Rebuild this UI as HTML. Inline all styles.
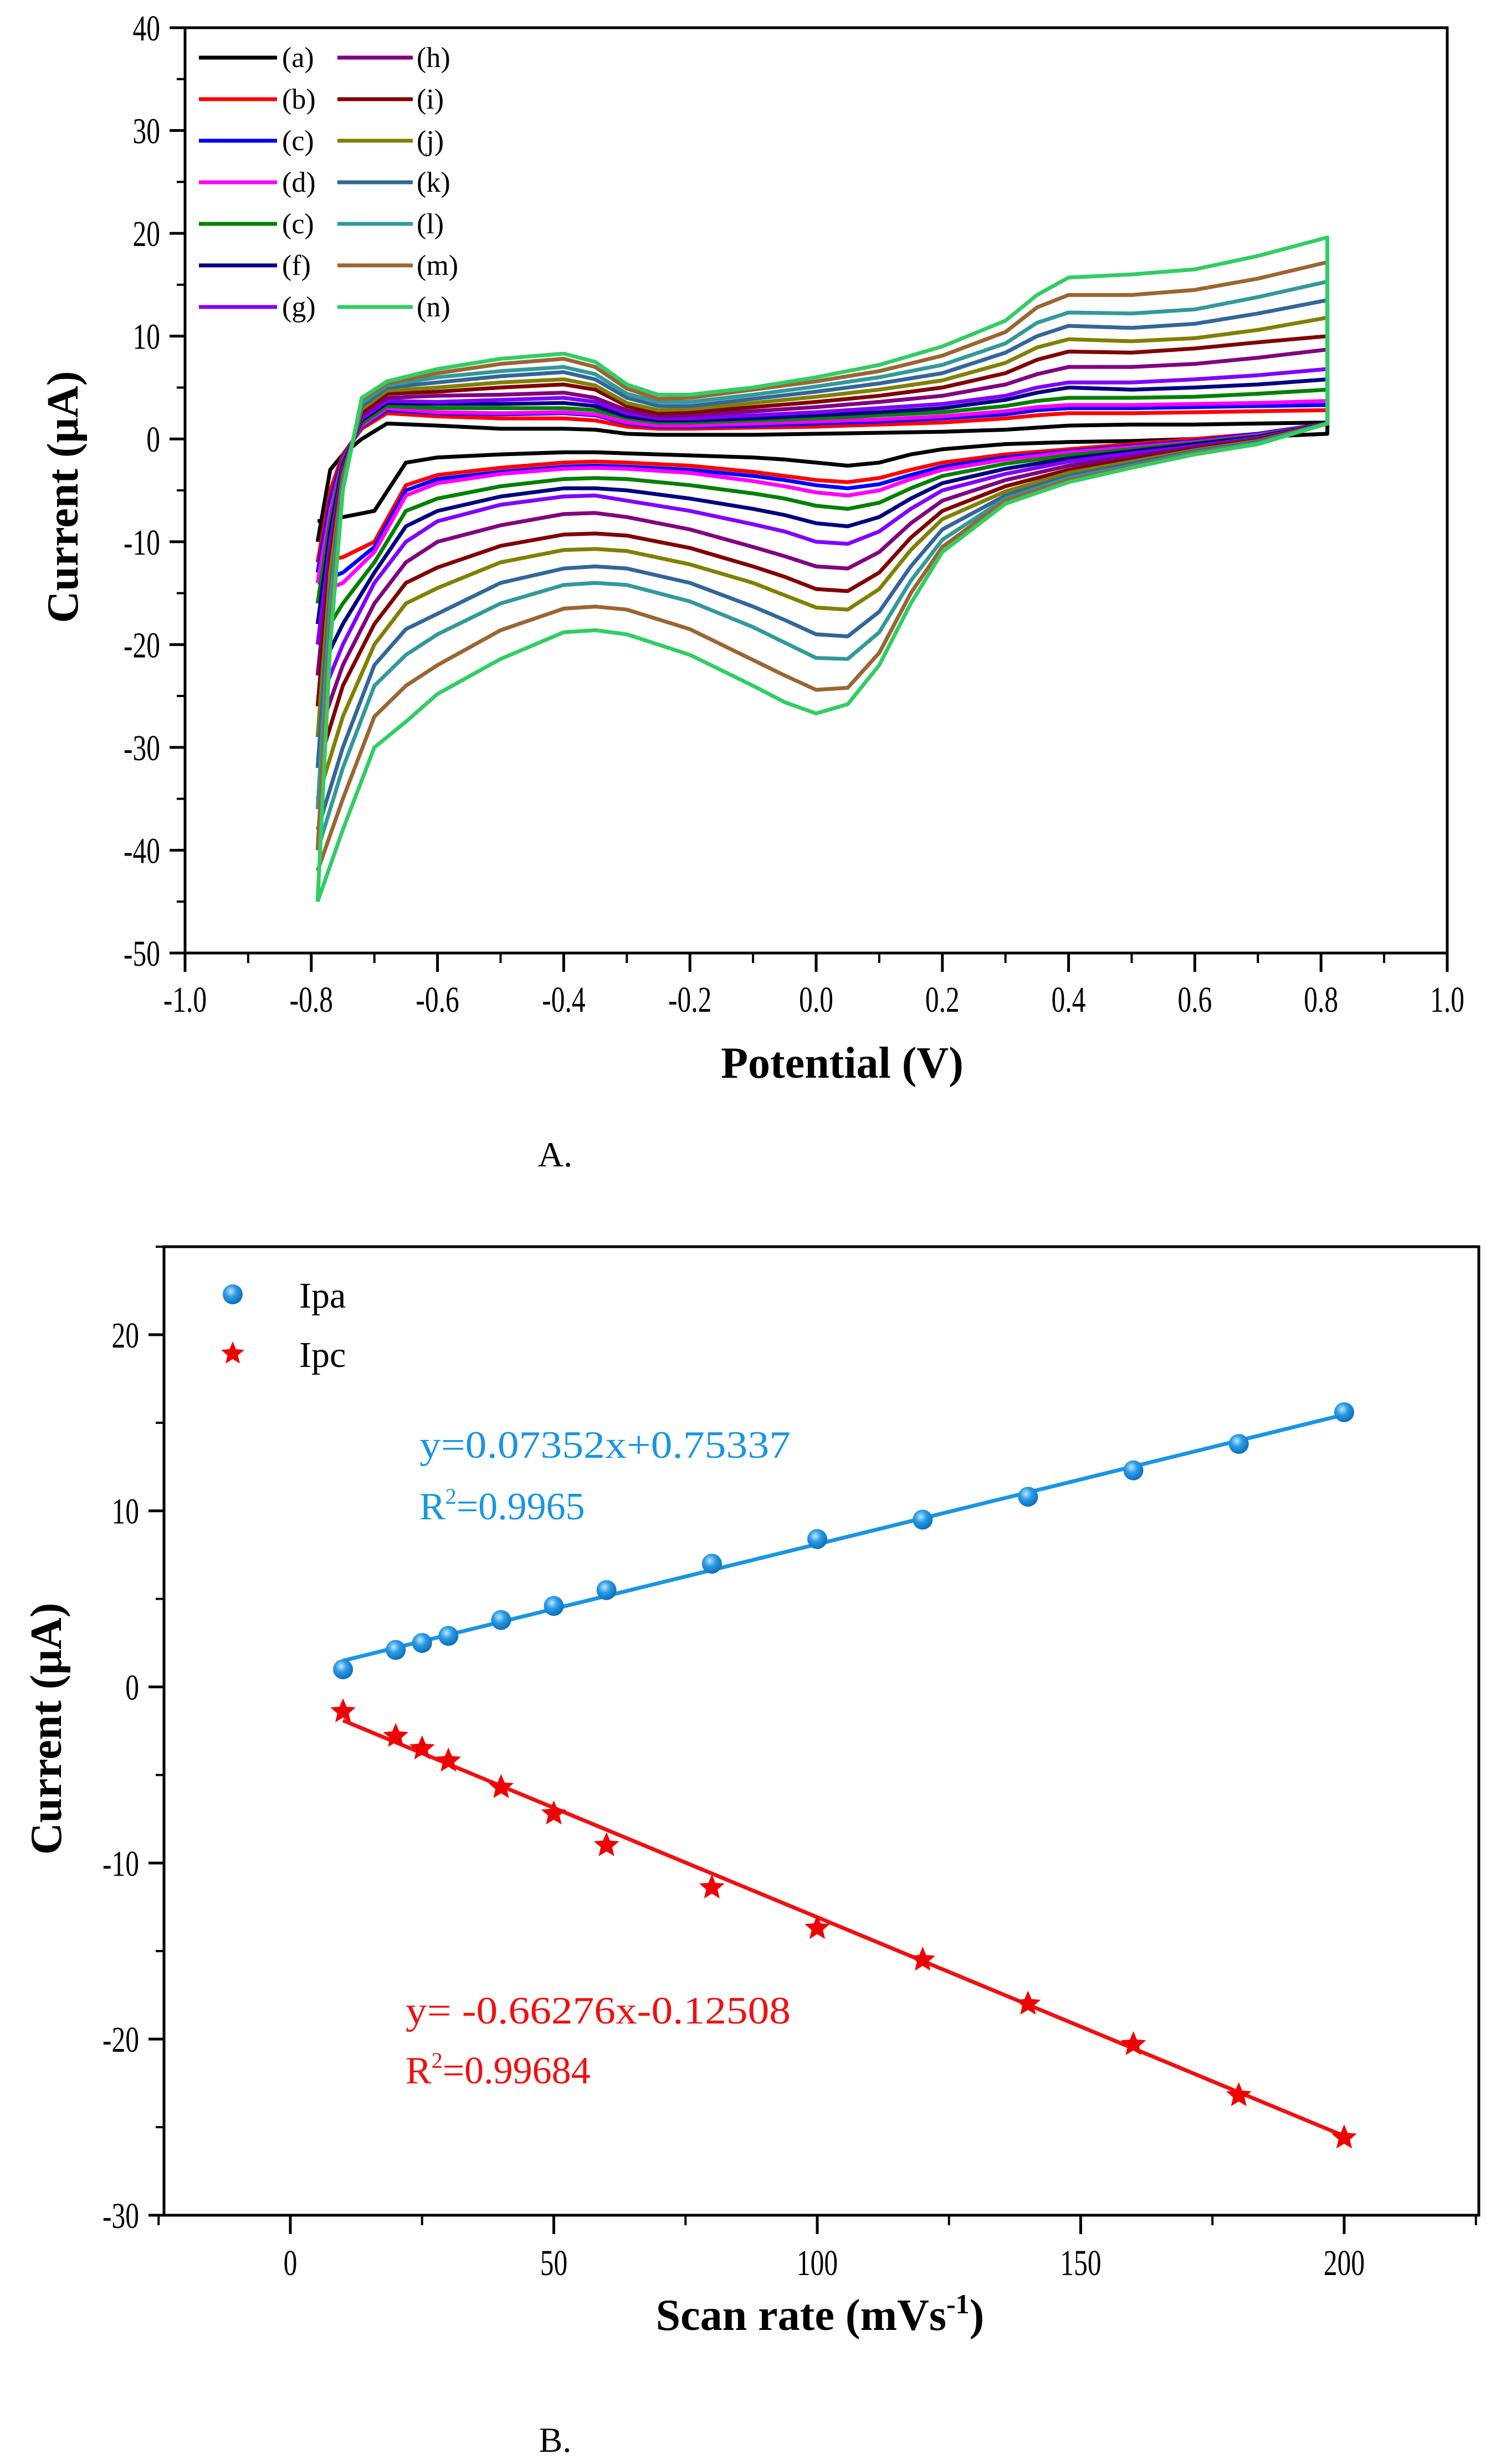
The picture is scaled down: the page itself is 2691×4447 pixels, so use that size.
<!DOCTYPE html>
<html><head><meta charset="utf-8"><style>
html,body{margin:0;padding:0;background:#fff}
svg{display:block}
text{font-family:"Liberation Serif",serif}
</style></head><body>
<svg id="s" width="2691" height="4447" viewBox="0 0 2691 4447" xmlns="http://www.w3.org/2000/svg">
<g id="gA"></g>
<g id="gB"></g>
<text x="1002" y="2105" font-size="64" text-anchor="middle">A.</text>
<text x="1002" y="4425" font-size="64" text-anchor="middle">B.</text>
</svg>
<script>
// ---------- Chart A data ----------
const EU = [-0.79,-0.77,-0.75,-0.72,-0.68,-0.6,-0.5,-0.4,-0.35,-0.3,-0.25,-0.2,-0.1,0,0.1,0.2,0.3,0.35,0.4,0.5,0.6,0.7,0.81];
const EL = [0.81,0.7,0.6,0.5,0.4,0.3,0.2,0.15,0.1,0.05,0,-0.05,-0.1,-0.2,-0.3,-0.35,-0.4,-0.5,-0.6,-0.65,-0.7,-0.75,-0.79];
const curveNames = ['a','b','c','d','e','f','g','h','i','j','k','l','m','n'];
const legendLabels = ['(a)','(b)','(c)','(d)','(c)','(f)','(g)','(h)','(i)','(j)','(k)','(l)','(m)','(n)'];
const curveColors = ['#000000','#ff0000','#0000ff','#ff00ff','#008000','#000080','#8000ff','#800080','#800000','#808000','#336699','#339999','#996633','#33cc66'];
const up_a=[-10,-3,-1.5,0,1.5,1.3,1,1,0.9,0.5,0.4,0.4,0.4,0.5,0.6,0.7,0.9,1.1,1.3,1.4,1.4,1.5,1.6];
const up_b=[-12,-5,-1.5,1,2.5,2.2,2,2,1.8,1.2,1,1,1.1,1.2,1.4,1.6,2,2.3,2.5,2.5,2.6,2.7,2.8];
const up_c=[-13,-6,-1.8,1.2,2.8,2.5,2.4,2.5,2.3,1.5,1.2,1.2,1.3,1.5,1.7,2,2.4,2.8,3,3,3.1,3.2,3.3];
const up_d=[-14,-7,-2,1.3,3,2.6,2.5,2.6,2.4,1.6,1.3,1.3,1.5,1.7,1.9,2.2,2.7,3.1,3.3,3.3,3.4,3.5,3.7];
const up_e=[-16,-8,-2.2,1.5,3.2,3,3,3,2.8,2,1.6,1.6,1.8,2,2.3,2.6,3.2,3.7,4,4,4.1,4.4,4.8];
const up_f=[-18,-9,-2.5,1.8,3.5,3.4,3.4,3.5,3.2,2.2,1.8,1.8,2,2.3,2.6,3,3.8,4.5,5,4.8,5,5.3,5.8];
const up_g=[-20,-10,-2.8,2,3.7,3.6,3.8,4,3.6,2.5,2,2,2.3,2.6,3,3.4,4.2,5,5.5,5.5,5.8,6.2,6.8];
const up_h=[-23,-11,-3,2.3,4,4.2,4.3,4.5,4,2.8,2.2,2.3,2.7,3.1,3.6,4.2,5.3,6.3,7,7,7.3,7.9,8.7];
const up_i=[-26,-12,-3.3,2.6,4.4,4.6,5,5.3,4.8,3.2,2.5,2.6,3.1,3.6,4.2,5,6.4,7.7,8.5,8.4,8.8,9.4,10];
const up_j=[-29,-13,-3.6,2.9,4.7,5,5.5,5.8,5.2,3.5,2.8,2.9,3.5,4.1,4.8,5.7,7.4,8.9,9.7,9.5,9.8,10.6,11.8];
const up_k=[-32,-15,-4,3.2,5,5.5,6.1,6.5,5.8,4,3.2,3.2,3.9,4.6,5.4,6.4,8.4,10,11,10.8,11.2,12.2,13.5];
const up_l=[-36,-16,-4.3,3.5,5.2,6,6.6,7,6.3,4.4,3.6,3.6,4.3,5.1,6,7.2,9.3,11.3,12.3,12.2,12.6,13.8,15.3];
const up_m=[-40,-18,-4.7,3.8,5.4,6.4,7.3,7.8,7,4.9,3.9,4,4.8,5.6,6.6,8.1,10.4,12.8,14,14,14.5,15.6,17.2];
const up_n=[-45,-20,-5,4,5.6,6.8,7.8,8.3,7.5,5.3,4.3,4.3,5,6,7.2,9,11.5,14,15.7,16,16.5,17.8,19.6];
const lo_a=[0.5,0.2,0,-0.2,-0.3,-0.5,-1,-1.5,-2.3,-2.6,-2.3,-2,-1.8,-1.6,-1.4,-1.3,-1.3,-1.5,-1.8,-2.3,-7,-7.6,-8];
const lo_b=[1.5,0.5,0,-0.5,-1,-1.5,-2.3,-3,-3.8,-4.2,-4,-3.6,-3.2,-2.6,-2.3,-2.2,-2.3,-2.8,-3.5,-4.5,-10,-11.5,-12];
const lo_c=[1.5,0.5,-0.2,-0.7,-1.2,-1.8,-2.7,-3.5,-4.4,-4.8,-4.5,-4,-3.6,-3,-2.7,-2.6,-2.7,-3.2,-3.9,-5,-10.5,-13,-14];
const lo_d=[1.5,0.4,-0.3,-0.8,-1.3,-2,-3,-3.9,-5,-5.5,-5.2,-4.6,-4.1,-3.3,-2.9,-2.8,-2.9,-3.4,-4.3,-5.5,-11,-14,-15];
const lo_e=[1.5,0.3,-0.4,-1,-1.6,-2.4,-3.6,-4.8,-6.2,-6.8,-6.5,-5.8,-5.3,-4.5,-3.9,-3.8,-3.9,-4.6,-5.8,-7,-12,-16,-20];
const lo_f=[1.5,0.2,-0.5,-1.2,-1.9,-2.9,-4.3,-5.8,-7.6,-8.5,-8.2,-7.4,-6.8,-5.8,-5,-4.8,-4.8,-5.6,-7,-8.5,-13,-18,-23];
const lo_g=[1.5,0.1,-0.7,-1.4,-2.2,-3.4,-5,-6.8,-9,-10.2,-10,-9,-8.3,-7,-6,-5.5,-5.6,-6.4,-8,-10,-14,-20,-26];
const lo_h=[1.5,0,-0.8,-1.7,-2.6,-4,-6,-8.2,-11,-12.6,-12.4,-11.4,-10.5,-8.8,-7.6,-7.2,-7.3,-8.4,-10,-12,-16,-22,-29];
const lo_i=[1.5,-0.1,-1,-2,-3,-4.6,-7,-9.6,-13,-14.8,-14.6,-13.4,-12.4,-10.6,-9.4,-9.2,-9.3,-10.4,-12.5,-14,-18,-24,-32];
const lo_j=[1.5,-0.2,-1.1,-2.2,-3.3,-5.1,-7.8,-10.8,-14.6,-16.6,-16.4,-15.2,-14,-12.2,-10.9,-10.7,-10.8,-12,-14.5,-16,-20,-27,-35];
const lo_k=[1.5,-0.3,-1.2,-2.4,-3.6,-5.5,-8.8,-12.4,-16.8,-19.2,-19,-17.6,-16.3,-14,-12.6,-12.4,-12.6,-14,-17,-18.5,-22,-30,-38];
const lo_l=[1.5,-0.4,-1.3,-2.6,-3.8,-5.8,-9.8,-13.8,-18.8,-21.4,-21.3,-19.8,-18.3,-15.8,-14.2,-14,-14.2,-16,-19,-21,-24,-32,-40];
const lo_m=[1.5,-0.5,-1.4,-2.7,-4,-6,-10.5,-15,-20.8,-24.2,-24.4,-23,-21.5,-18.5,-16.6,-16.3,-16.5,-18.6,-22,-24,-27,-35,-42];
const lo_n=[1.5,-0.5,-1.5,-2.8,-4.2,-6.3,-11,-16,-22,-25.8,-26.7,-25.6,-24,-21,-19,-18.6,-18.8,-21.4,-24.8,-27.5,-30,-38,-45];
const upper=[up_a,up_b,up_c,up_d,up_e,up_f,up_g,up_h,up_i,up_j,up_k,up_l,up_m,up_n];
const lower=[lo_a,lo_b,lo_c,lo_d,lo_e,lo_f,lo_g,lo_h,lo_i,lo_j,lo_k,lo_l,lo_m,lo_n];
const xTicksA=[-1.0,-0.8,-0.6,-0.4,-0.2,0.0,0.2,0.4,0.6,0.8,1.0];
const yTicksA=[40,30,20,10,0,-10,-20,-30,-40,-50];

// ---------- Chart B data ----------
const scanRates=[10,20,25,30,40,50,60,80,100,120,140,160,180,200];
const ipa=[1.0,2.1,2.5,2.9,3.8,4.6,5.5,7.0,8.4,9.5,10.8,12.3,13.8,15.6];
const ipc=[-1.4,-2.8,-3.5,-4.2,-5.7,-7.2,-9.0,-11.4,-13.7,-15.5,-18.0,-20.3,-23.2,-25.6];
const fitX=[10,200];
const ipaFit=[1.49,15.46];
const ipcFit=[-1.9,-25.5];
const xTicksB=[0,50,100,150,200];
const yTicksB=[20,10,0,-10,-20,-30];

const NS='http://www.w3.org/2000/svg';
function mk(parent,tag,attrs,txt){const e=document.createElementNS(NS,tag);for(const k in attrs)e.setAttribute(k,attrs[k]);if(txt!==undefined)e.textContent=txt;parent.appendChild(e);return e;}
function ctext(parent,x,y,anchor,str){
  return mk(parent,'text',{x:0,y:0,'font-size':66,'text-anchor':anchor,transform:'translate('+x.toFixed(1)+','+y.toFixed(1)+') scale(0.75,1)'},str);
}

// ===== Chart A =====
(function(){
const g=document.getElementById('gA');
const L=334,R=2612,T=50,B=1720;
const xA=v=>L+(v+1)/2*(R-L);
const yA=v=>T+(40-v)/90*(B-T);
for(let i=0;i<curveNames.length;i++){
  let d='';
  EU.forEach((e,j)=>{d+=(j?'L':'M')+xA(e).toFixed(1)+' '+yA(upper[i][j]).toFixed(1);});
  EL.forEach((e,j)=>{d+='L'+xA(e).toFixed(1)+' '+yA(lower[i][j]).toFixed(1);});
  const p=mk(g,'path',{d:d,fill:'none',stroke:curveColors[i],'stroke-width':7,'stroke-linejoin':'round'});
  
  
}
const fr=mk(g,'rect',{x:L,y:T,width:R-L,height:B-T,fill:'none',stroke:'#000','stroke-width':5});


yTicksA.forEach(v=>{
  const t=mk(g,'line',{x1:L-28,x2:L,y1:yA(v),y2:yA(v),stroke:'#000','stroke-width':5});
  
  
  if(v>-50){const m=mk(g,'line',{x1:L-15,x2:L,y1:yA(v-5),y2:yA(v-5),stroke:'#000','stroke-width':4});
  
  }
  const l=ctext(g,L-45,yA(v)+23,'end',String(v));
  
  
});
xTicksA.forEach(v=>{
  const t=mk(g,'line',{x1:xA(v),x2:xA(v),y1:B,y2:B+34,stroke:'#000','stroke-width':5});
  
  
  if(v<1){const m=mk(g,'line',{x1:xA(v+0.1),x2:xA(v+0.1),y1:B,y2:B+18,stroke:'#000','stroke-width':4});
  
  }
  const l=ctext(g,xA(v),B+106,'middle',v.toFixed(1));
  
  
});
const xt=mk(g,'text',{x:1520,y:1945,'font-size':80,'font-weight':'bold','text-anchor':'middle'},'Potential (V)');


const yt=mk(g,'text',{x:0,y:0,'font-size':80,'font-weight':'bold','text-anchor':'middle',transform:'translate(140,897) rotate(-90)'},'Current (μA)');


const rowsY=[104,179,254,329,404,479,554];
for(let i=0;i<14;i++){
  const col=i<7?0:1,row=i%7;
  const x1=col?609:359,x2=col?745:500,tx=col?752:509;
  const ln=mk(g,'line',{x1:x1,x2:x2,y1:rowsY[row],y2:rowsY[row],stroke:curveColors[i],'stroke-width':7});
  
  
  const tx1=mk(g,'text',{x:tx,y:rowsY[row]+17,'font-size':52},legendLabels[i]);
  
  
}
})();

// ===== Chart B =====
(function(){
const g=document.getElementById('gB');
const L=296,R=2669,T=2250,B=3998;
const x0=524,x200=2426;
const xB=v=>x0+v/200*(x200-x0);
const yB=v=>T+(25-v)/55*(B-T);
const defs=mk(g,'defs',{});
const rg=mk(defs,'radialGradient',{id:'ball',cx:'0.4',cy:'0.35',r:'0.65'});
mk(rg,'stop',{offset:'0','stop-color':'#bfe6ff'});
mk(rg,'stop',{offset:'0.45','stop-color':'#2a9be6'});
mk(rg,'stop',{offset:'1','stop-color':'#0d6fb8'});
const fa=mk(g,'line',{x1:xB(fitX[0]),y1:yB(ipaFit[0]),x2:xB(fitX[1]),y2:yB(ipaFit[1]),stroke:'#1b95e0','stroke-width':7});


const fc=mk(g,'line',{x1:xB(fitX[0]),y1:yB(ipcFit[0]),x2:xB(fitX[1]),y2:yB(ipcFit[1]),stroke:'#ee1111','stroke-width':7});


function star(cx,cy,r){let d='';for(let k=0;k<10;k++){const a=-Math.PI/2+k*Math.PI/5;const rr=k%2?r*0.45:r;d+=(k?'L':'M')+(cx+rr*Math.cos(a)).toFixed(1)+' '+(cy+rr*Math.sin(a)).toFixed(1);}return d+'Z';}
scanRates.forEach((x,i)=>{
  const c=mk(g,'circle',{cx:xB(x),cy:yB(ipa[i]),r:18,fill:'url(#ball)'});
  
  
  const s=mk(g,'path',{d:star(xB(x),yB(ipc[i]),24),fill:'#ee0000'});
  
  
});
const fr=mk(g,'rect',{x:L,y:T,width:R-L,height:B-T,fill:'none',stroke:'#000','stroke-width':5});


yTicksB.forEach(v=>{
  const t=mk(g,'line',{x1:L-28,x2:L,y1:yB(v),y2:yB(v),stroke:'#000','stroke-width':5});
  
  
  const m=mk(g,'line',{x1:L-15,x2:L,y1:yB(v+5),y2:yB(v+5),stroke:'#000','stroke-width':4});
  
  
  const l=ctext(g,L-45,yB(v)+23,'end',String(v));
  
  
});
[-25,25,75,125,175,225].forEach(v=>{
  const m=mk(g,'line',{x1:xB(v),x2:xB(v),y1:B,y2:B+18,stroke:'#000','stroke-width':4});
  
  
});
xTicksB.forEach(v=>{
  const t=mk(g,'line',{x1:xB(v),x2:xB(v),y1:B,y2:B+34,stroke:'#000','stroke-width':5});
  
  
  const l=ctext(g,xB(v),B+108,'middle',String(v));
  
  
});
const xt=mk(g,'text',{x:1480,y:4205,'font-size':80,'font-weight':'bold','text-anchor':'middle'});
xt.innerHTML='Scan rate (mVs<tspan dy="-30" font-size="50">-1</tspan><tspan dy="30">)</tspan>';


const yt=mk(g,'text',{x:0,y:0,'font-size':80,'font-weight':'bold','text-anchor':'middle',transform:'translate(110,3120) rotate(-90)'},'Current (μA)');


const lc=mk(g,'circle',{cx:420,cy:2336,r:18,fill:'url(#ball)'});


const lt=mk(g,'text',{x:540,y:2360,'font-size':66},'Ipa');


const ls=mk(g,'path',{d:star(420,2443,22),fill:'#ee0000'});


const lt2=mk(g,'text',{x:540,y:2467,'font-size':66},'Ipc');


const e1=mk(g,'text',{x:757,y:2631,'font-size':70,fill:'#1b95e0',textLength:670,lengthAdjust:'spacingAndGlyphs'},'y=0.07352x+0.75337');


const r1=mk(g,'text',{x:757,y:2742,'font-size':70,fill:'#1b95e0'});
r1.innerHTML='R<tspan dy="-28" font-size="40">2</tspan><tspan dy="28">=0.9965</tspan>';


const e2=mk(g,'text',{x:732,y:3652,'font-size':70,fill:'#ee1111',textLength:695,lengthAdjust:'spacingAndGlyphs'},'y= -0.66276x-0.12508');


const r2=mk(g,'text',{x:732,y:3760,'font-size':70,fill:'#ee1111'});
r2.innerHTML='R<tspan dy="-28" font-size="40">2</tspan><tspan dy="28">=0.99684</tspan>';


})();
</script>
</body></html>
